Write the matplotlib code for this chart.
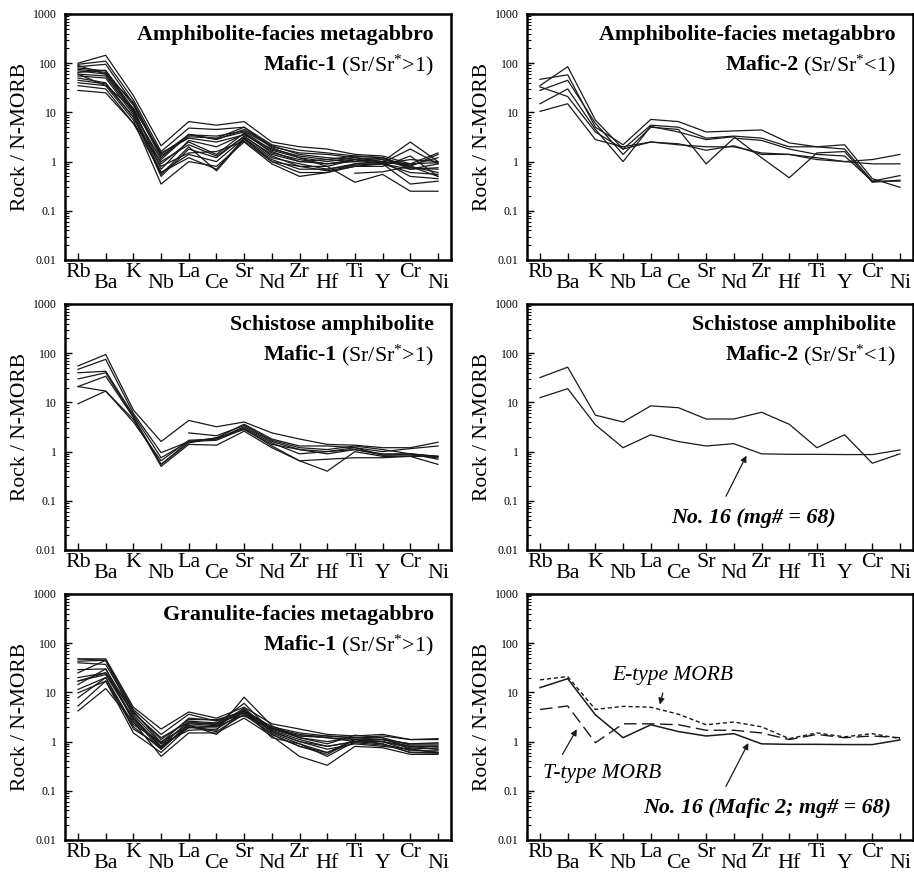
import numpy as np
import matplotlib
matplotlib.use("Agg")
import matplotlib.pyplot as plt
from matplotlib.ticker import LogLocator, NullFormatter

plt.rcParams['font.family'] = ['Liberation Serif', 'DejaVu Serif']
plt.rcParams['mathtext.fontset'] = 'custom'
plt.rcParams['mathtext.rm'] = 'Liberation Serif'
plt.rcParams['mathtext.it'] = 'Liberation Serif:italic'

nan = np.nan
elements = ["Rb", "Ba", "K", "Nb", "La", "Ce", "Sr", "Nd", "Zr", "Hf", "Ti", "Y", "Cr", "Ni"]
yticks = [0.01, 0.1, 1, 10, 100, 1000]
ytick_labels = ["0.01", "0.1", "1", "10", "100", "1000"]

# amphibolite-facies metagabbro, Mafic-1
amph_mafic1 = [
    [100, 145, 22, 2.1, 6.5, 5.5, 6.5, 2.5, 2.0, 1.8, 1.4, 1.3, 0.9, 1.5],
    [95, 110, 18, 1.6, 4.8, 4.5, 5.0, 2.2, 1.7, 1.5, 1.3, 1.2, 0.8, 1.4],
    [85, 95, 15, 1.4, 3.5, 3.3, 4.2, 2.0, 1.5, 1.4, 1.2, 1.1, 0.85, 1.2],
    [80, 70, 14, 1.2, 3.6, 2.8, 4.5, 2.1, 1.4, 1.2, 1.1, 1.0, 2.5, 1.0],
    [75, 65, 12, 1.5, 3.0, 2.5, 3.5, 1.8, 1.3, 1.1, 1.0, 0.95, 1.8, 0.9],
    [70, 60, 11, 0.9, 2.5, 1.4, 3.8, 1.5, 1.1, 0.9, 1.0, 1.2, 0.7, 0.75],
    [65, 72, 10, 1.1, 3.5, 2.9, 4.0, 1.7, 1.2, 0.8, 1.1, 1.0, 0.8, 0.6],
    [60, 55, 10, 0.6, 1.2, 0.7, 3.0, 1.2, 0.9, 0.7, 0.9, 0.9, 0.7, 0.9],
    [55, 50, 9, 0.5, 1.8, 1.2, 3.3, 1.3, 0.8, 0.65, 0.8, 0.8, 1.3, 0.5],
    [50, 40, 8, 0.55, 2.0, 0.65, 2.8, 1.1, 0.7, 0.7, 0.85, 0.9, 0.6, 0.55],
    [45, 38, 8, 0.8, 1.5, 1.6, 2.6, 1.0, 0.6, 0.6, 0.9, 1.0, 0.5, 0.45],
    [40, 35, 7, 0.35, 1.0, 0.8, 2.5, 0.9, 0.5, 0.6, 0.8, 0.9, 0.35, 0.4],
    [35, 30, 6, 0.6, 1.4, 1.0, 3.0, 1.0, 0.8, 0.8, 0.38, 0.55, 0.25, 0.25],
    [28, 25, 6, 1.0, 2.2, 1.3, 3.2, 1.4, 1.0, 0.9, 1.1, 0.9, 1.1, 1.0],
    [90, 60, 16, 1.3, 3.2, 3.0, 5.0, 1.9, 1.2, 1.0, 1.2, 1.0, 0.9, 0.95],
    [60, 35, 12, 0.7, 2.7, 2.0, 3.6, 1.6, 1.0, 1.1, 1.3, 1.2, 0.75, 0.7],
    [nan, nan, nan, nan, nan, nan, nan, nan, nan, nan, 0.58, 0.62, 0.8, 0.5],
]

# amphibolite-facies metagabbro, Mafic-2
amph_mafic2 = [
    [47, 58, 5.0, 2.2, 7.2, 6.5, 4.0, 4.2, 4.4, 2.4, 2.0, 2.2, 0.45, 0.3],
    [35, 85, 7.0, 1.8, 5.5, 5.0, 3.0, 3.3, 3.0, 2.0, 2.0, 1.8, 0.4, 0.4],
    [28, 45, 6.0, 1.4, 5.0, 4.5, 0.9, 3.0, 2.7, 1.8, 1.4, 1.3, 0.4, 0.52],
    [15, 30, 4.5, 1.0, 5.2, 4.0, 2.8, 3.2, 1.2, 0.47, 1.5, 1.6, 0.38, 0.42],
    [10.5, 15, 2.8, 2.0, 2.5, 2.3, 1.7, 2.1, 1.4, 1.4, 1.2, 1.0, 1.1, 1.4],
    [33, 21, 4.0, 1.8, 2.5, 2.2, 2.0, 2.0, 1.5, 1.4, 1.1, 1.0, 0.9, 0.9],
]

# schistose amphibolite, Mafic-1
schist_mafic1 = [
    [55, 94, 7.0, 1.6, 4.3, 3.2, 4.0, 2.4, 1.8, 1.4, 1.35, 1.2, 1.2, 1.55],
    [47, 75, 6.0, 0.95, 1.6, 1.9, 3.6, 1.8, 1.3, 1.3, 1.2, 1.0, 1.15, 1.3],
    [40, 43, 5.5, 0.75, 1.6, 1.8, 3.2, 1.6, 1.1, 1.0, 1.1, 0.9, 0.9, 0.8],
    [30, 40, 5.0, 0.55, 1.5, 1.9, 2.8, 1.4, 1.1, 0.9, 1.1, 0.85, 0.85, 0.75],
    [21, 34, 5.0, 0.5, 1.4, 1.35, 2.6, 1.2, 0.65, 0.4, 1.0, 0.8, 0.8, 0.55],
    [9.4, 17, 4.0, 0.65, 1.7, 1.8, 3.0, 1.5, 0.9, 1.0, 1.2, 0.85, 0.9, 0.8],
    [21, 17, 4.5, 0.55, 1.6, 1.7, 2.9, 1.3, 0.65, 0.7, 0.75, 0.75, 0.8, 0.8],
    [nan, nan, nan, nan, 2.4, 2.1, 3.4, 1.7, 1.2, 1.1, 1.3, 1.1, 0.9, 0.7],
]

# schistose amphibolite, Mafic-2
schist_mafic2_a = [32, 52, 5.5, 4.0, 8.5, 7.8, 4.6, 4.6, 6.3, 3.6, 1.2, 2.2, 0.58, 0.9]
no16 = [12.5, 19, 3.5, 1.2, 2.2, 1.6, 1.3, 1.45, 0.9, 0.88, 0.88, 0.87, 0.87, 1.08]

# granulite-facies metagabbro, Mafic-1
gran_mafic1 = [
    [48, 48, 5.0, 1.8, 4.0, 3.0, 5.0, 2.3, 1.8, 1.4, 1.3, 1.4, 1.1, 1.15],
    [43, 45, 4.5, 1.4, 3.6, 2.6, 4.3, 2.0, 1.5, 1.3, 1.2, 1.3, 1.1, 1.1],
    [40, 37, 4.0, 1.1, 2.8, 2.8, 4.0, 1.8, 1.3, 1.2, 1.1, 1.1, 0.9, 0.9],
    [29, 30, 3.5, 0.9, 2.4, 2.3, 6.0, 1.6, 1.0, 0.8, 1.0, 1.0, 0.8, 0.8],
    [25, 45, 3.2, 0.75, 2.0, 1.7, 8.0, 2.1, 1.2, 0.9, 1.35, 1.2, 0.7, 0.75],
    [20, 25, 3.0, 0.8, 1.9, 2.0, 3.5, 1.4, 0.8, 0.55, 1.1, 1.0, 0.75, 0.7],
    [17, 23, 2.8, 0.7, 2.2, 1.4, 4.3, 1.2, 0.9, 0.6, 1.1, 0.9, 0.6, 0.6],
    [14.5, 30, 2.5, 0.5, 1.5, 1.5, 3.0, 1.3, 0.5, 0.33, 0.8, 0.75, 0.55, 0.55],
    [11.5, 20, 2.2, 1.0, 2.1, 2.0, 4.5, 1.5, 0.9, 0.5, 1.0, 1.0, 0.65, 0.65],
    [9.8, 17, 2.0, 0.7, 2.3, 2.1, 4.8, 1.6, 1.0, 0.7, 0.9, 0.8, 0.7, 0.6],
    [7.8, 20, 1.8, 0.8, 2.6, 2.4, 3.8, 1.8, 1.2, 1.0, 1.2, 1.1, 0.8, 0.7],
    [5.3, 17, 1.5, 0.6, 2.0, 1.6, 3.6, 1.7, 1.1, 0.8, 1.0, 0.9, 0.6, 0.58],
    [4.2, 12, 2.5, 0.9, 1.7, 1.8, 4.0, 1.4, 0.8, 0.6, 0.95, 0.85, 0.7, 0.6],
    [17, 25, 3.8, 1.2, 2.5, 2.2, 4.2, 1.9, 1.4, 1.2, 1.0, 1.1, 0.9, 0.95],
    [48, 45, 4.2, 0.95, 3.0, 2.7, 3.3, 1.9, 1.3, 1.3, 1.2, 1.2, 0.85, 0.85],
]

# reference MORB types
e_morb = [18, 21, 4.5, 5.2, 5.0, 3.6, 2.2, 2.5, 2.0, 1.15, 1.5, 1.25, 1.45, 1.15]
t_morb = [4.5, 5.3, 0.95, 2.3, 2.3, 2.2, 1.7, 1.7, 1.5, 1.1, 1.4, 1.2, 1.3, 1.2]

x = np.arange(len(elements))
W, H = 914, 876
left_x = [65, 527]
tops = [14, 304, 594]
aw, ah = 386, 246
title_fs = 15.8
label_fs = 15.5

fig = plt.figure(figsize=(W / 100, H / 100), dpi=100)


def make_ax(col, row):
    ax = fig.add_axes([left_x[col] / W, (H - tops[row] - ah) / H, aw / W, ah / H])
    ax.set_yscale('log')
    ax.set_ylim(0.01, 1000)
    ax.set_xlim(-0.47, 13.47)
    ax.set_yticks(yticks)
    ax.set_yticklabels(ytick_labels, fontsize=8.5)
    ax.yaxis.set_minor_locator(LogLocator(base=10, subs=np.arange(2, 10)))
    ax.yaxis.set_minor_formatter(NullFormatter())
    ax.tick_params(axis='y', which='major', direction='in', length=5, width=1, pad=6)
    ax.tick_params(axis='y', which='minor', direction='in', length=3, width=0.8)
    ax.set_xticks(x)
    ax.set_xticklabels(elements, fontsize=15.8)
    ax.tick_params(axis='x', direction='in', length=5, width=1, pad=2)
    for i, t in enumerate(ax.xaxis.get_major_ticks()):
        if i % 2 == 1:
            t.set_pad(10)
    for s in ax.spines.values():
        s.set_linewidth(1.8)
    ax.set_ylabel("Rock / N-MORB", fontsize=label_fs, labelpad=2)
    return ax


def titles(ax, line1, bold2, rest2):
    ax.text(0.956, 0.915, line1, transform=ax.transAxes, ha='right', va='center',
            fontsize=title_fs, fontweight='bold')
    t = ax.text(0.956, 0.793, rest2, transform=ax.transAxes, ha='right', va='center',
                fontsize=title_fs)
    ax.annotate(bold2, xy=(0, 0.5), xycoords=t, xytext=(-3, 0), textcoords='offset points',
                ha='right', va='center', fontsize=title_fs, fontweight='bold')


lc = '#1a1a1a'
lw = 0.9
arrow = dict(arrowstyle='-|>', color=lc, lw=0.9, mutation_scale=9)

ax = make_ax(0, 0)
for s in amph_mafic1:
    ax.plot(x, s, color=lc, lw=lw)
titles(ax, "Amphibolite-facies metagabbro", "Mafic-1", r"(Sr/Sr$^{*}$>1)")

ax = make_ax(1, 0)
for s in amph_mafic2:
    ax.plot(x, s, color=lc, lw=lw)
titles(ax, "Amphibolite-facies metagabbro", "Mafic-2", r"(Sr/Sr$^{*}$<1)")

ax = make_ax(0, 1)
for s in schist_mafic1:
    ax.plot(x, s, color=lc, lw=lw)
titles(ax, "Schistose amphibolite", "Mafic-1", r"(Sr/Sr$^{*}$>1)")

ax = make_ax(1, 1)
ax.plot(x, schist_mafic2_a, color=lc, lw=lw)
ax.plot(x, no16, color=lc, lw=lw)
titles(ax, "Schistose amphibolite", "Mafic-2", r"(Sr/Sr$^{*}$<1)")
ax.annotate('', xy=(7.5, 0.93), xytext=(6.67, 0.11), arrowprops=arrow)
ax.text(7.7, 0.045, "No. 16 (mg# = 68)", ha='center', va='center', fontsize=title_fs,
        fontweight='bold', style='italic')

ax = make_ax(0, 2)
for s in gran_mafic1:
    ax.plot(x, s, color=lc, lw=lw)
titles(ax, "Granulite-facies metagabbro", "Mafic-1", r"(Sr/Sr$^{*}$>1)")

ax = make_ax(1, 2)
ax.plot(x, no16, color=lc, lw=1.1)
ax.plot(x, e_morb, color=lc, lw=1.0, linestyle=(0, (3, 2)))
ax.plot(x, t_morb, color=lc, lw=1.0, linestyle=(0, (9, 4)))
ax.text(4.8, 22, "E-type MORB", ha='center', va='center', fontsize=15.5, style='italic')
ax.annotate('', xy=(4.3, 5.0), xytext=(4.46, 11), arrowprops=arrow)
ax.text(2.25, 0.23, "T-type MORB", ha='center', va='center', fontsize=15.5, style='italic')
ax.annotate('', xy=(1.38, 2.0), xytext=(0.76, 0.49), arrowprops=arrow)
ax.text(8.2, 0.045, "No. 16 (Mafic 2; mg# = 68)", ha='center', va='center', fontsize=title_fs,
        fontweight='bold', style='italic')
ax.annotate('', xy=(7.57, 1.05), xytext=(6.67, 0.11), arrowprops=arrow)

fig.savefig("out.png", dpi=100)
